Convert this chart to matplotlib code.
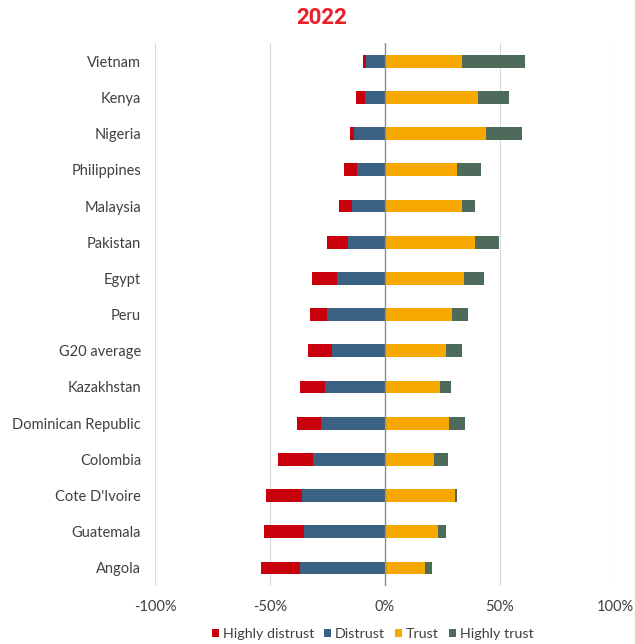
import matplotlib
matplotlib.use('Agg')
import matplotlib.pyplot as plt
from matplotlib.ticker import FuncFormatter
import numpy as np

plt.rcParams['font.family'] = ['Lato', 'DejaVu Sans']

countries = ['Vietnam', 'Kenya', 'Nigeria', 'Philippines', 'Malaysia', 'Pakistan', 'Egypt',
             'Peru', 'G20 average', 'Kazakhstan', 'Dominican Republic', 'Colombia',
             "Cote D'Ivoire", 'Guatemala', 'Angola']
highly_distrust = [1.5, 4.1, 2.0, 5.5, 5.5, 9.0, 10.9, 7.8, 10.4, 11.1, 10.8, 15.2, 16.0, 17.3, 16.9]
distrust = [8.2, 8.5, 13.3, 12.1, 14.4, 16.0, 20.8, 25.0, 22.9, 26.0, 27.6, 31.3, 35.9, 35.1, 37.1]
trust = [33.6, 40.4, 44.0, 31.5, 33.6, 39.1, 34.3, 29.0, 26.4, 24.1, 28.0, 21.1, 30.3, 23.1, 17.6]
highly_trust = [27.4, 13.4, 15.4, 10.2, 5.4, 10.3, 8.7, 7.2, 7.2, 4.8, 6.8, 6.3, 1.0, 3.3, 3.0]

c_hd, c_d, c_t, c_ht = '#C8000B', '#3C6283', '#F7A800', '#4D6A5B'

hd = np.array(highly_distrust)
d = np.array(distrust)
t = np.array(trust)
ht = np.array(highly_trust)
y = np.arange(len(countries))

fig = plt.figure(figsize=(6.35, 6.44), dpi=100)
ax = fig.add_axes([0.244, 0.090, 0.7245, 0.843])

h = 0.35
ax.barh(y, -d, height=h, color=c_d, label='Distrust', zorder=3)
ax.barh(y, -hd, left=-d, height=h, color=c_hd, label='Highly distrust', zorder=3)
ax.barh(y, t, height=h, color=c_t, label='Trust', zorder=3)
ax.barh(y, ht, left=t, height=h, color=c_ht, label='Highly trust', zorder=3)

ax.set_xlim(-100, 100)
ax.set_ylim(len(countries) - 0.5, -0.5)
ax.set_xticks([-100, -50, 0, 50, 100])
ax.xaxis.set_major_formatter(FuncFormatter(lambda v, p: '%d%%' % v))
ax.set_yticks(y)
ax.set_yticklabels(countries)

for xv in [-100, -50, 50, 100]:
    ax.axvline(xv, color='#D9D9D9', lw=0.8, zorder=1)
ax.axvline(0, color='#8C8C8C', lw=1.0, zorder=4)

for s in ax.spines.values():
    s.set_visible(False)
ax.tick_params(axis='both', length=0, labelsize=10.5, colors='#404040')
ax.tick_params(axis='y', pad=10)
ax.tick_params(axis='x', pad=10)

# legend: keep the red/blue/yellow/green order
handles, labels = ax.get_legend_handles_labels()
order = [1, 0, 2, 3]
fig.legend([handles[i] for i in order], [labels[i] for i in order],
           loc='center', bbox_to_anchor=(0.587, 0.016), ncol=4, frameon=False,
           fontsize=10.3, handlelength=0.5, handleheight=0.5, handletextpad=0.25,
           columnspacing=0.7, labelcolor='#404040')

fig.text(0.507, 0.972, '2022', color='#E8202A', fontsize=16, fontweight='bold',
         ha='center', va='center', family=['Roboto', 'DejaVu Sans'])

fig.savefig('out.png', dpi=100)
